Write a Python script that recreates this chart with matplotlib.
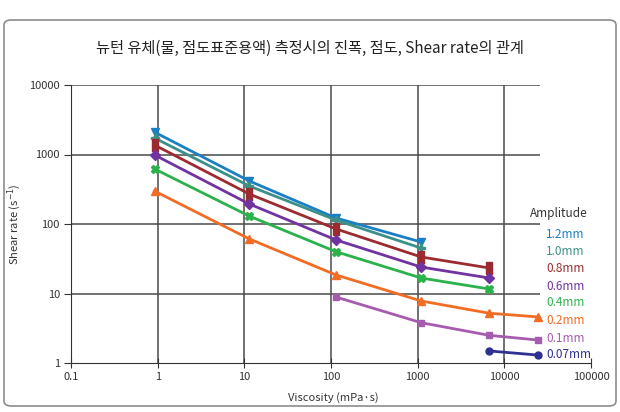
import matplotlib
matplotlib.use('Agg')
import matplotlib.pyplot as plt
from matplotlib.patches import FancyBboxPatch

plt.rcParams['font.family'] = ['Noto Sans CJK KR', 'DejaVu Sans']
plt.rcParams['mathtext.fontset'] = 'dejavusans'

# viscosity of the standard liquids (mPa.s)
visc = [0.92, 11.4, 114, 1100, 6700, 24500]

labels = ['1.2mm', '1.0mm', '0.8mm', '0.6mm', '0.4mm', '0.2mm', '0.1mm', '0.07mm']
colors = ['#1b7fc4', '#3b9188', '#9b2b30', '#7133a0', '#2bb24c', '#f26c24', '#a65cae', '#2e3192']

amp_12 = [2100, 416, 122, 55]
amp_10 = [1730, 352, 114, 45]
amp_08 = [1370, 270, 85, 33.5, 23.3]
amp_06 = [985, 194, 59, 24, 16.7]
amp_04 = [620, 130, 40, 16.7, 11.6]
amp_02 = [298, 61, 18.5, 7.8, 5.2, 4.6]
amp_01 = [8.9, 3.8, 2.5, 2.14]
amp_007 = [1.49, 1.30]

series = [
    (visc[:4], amp_12),
    (visc[:4], amp_10),
    (visc[:5], amp_08),
    (visc[:5], amp_06),
    (visc[:5], amp_04),
    (visc[:6], amp_02),
    (visc[2:], amp_01),
    (visc[4:], amp_007),
]

rect = [(-0.45, -1), (0.45, -1), (0.45, 1), (-0.45, 1), (-0.45, -1)]
markers = ['v', 'P', rect, 'D', 'X', '^', 's', 'o']
msizes = [6, 5.5, 8.5, 5, 5.5, 5.5, 5, 5]

W, H = 620, 412
fig = plt.figure(figsize=(W / 100, H / 100), dpi=100)

frame = FancyBboxPatch((4 / W, 6 / H), 612 / W, 386 / H,
                       boxstyle='round,pad=0,rounding_size=0.012',
                       transform=fig.transFigure, fill=False,
                       edgecolor='#8c8c8c', linewidth=1.2)
fig.patches.append(frame)

ax = fig.add_axes([71 / W, (H - 363) / H, 520 / W, 278 / H])
ax.set_xscale('log')
ax.set_yscale('log')
ax.set_xlim(0.1, 100000)
ax.set_ylim(1, 10000)

# grid
for xv in [1, 10, 100, 1000, 10000]:
    ax.axvline(xv, color='#4a4a4a', lw=1.1, zorder=1)
for yv in [10, 100, 1000, 10000]:
    ax.hlines(yv, 0.1, 26000, color='#4a4a4a', lw=1.1, zorder=1)

for (xs, ys), c, m, ms in zip(series, colors, markers, msizes):
    ax.plot(xs, ys, color=c, lw=2.0, marker=m, ms=ms, mec=c, mfc=c, zorder=3,
            clip_on=False)

for s in ['top', 'right']:
    ax.spines[s].set_visible(False)
ax.spines['left'].set_color('#333333')
ax.spines['bottom'].set_color('#333333')
ax.minorticks_off()
ax.set_xticks([0.1, 1, 10, 100, 1000, 10000, 100000])
ax.set_xticklabels(['0.1', '1', '10', '100', '1000', '10000', '100000'])
ax.set_yticks([1, 10, 100, 1000, 10000])
ax.set_yticklabels(['1', '10', '100', '1000', '10000'])
ax.tick_params(axis='x', direction='inout', length=7, labelsize=8, colors='#333333', pad=3)
ax.tick_params(axis='y', direction='out', length=5, labelsize=8, colors='#333333', pad=3)
ax.set_xlabel('Viscosity (mPa·s)', fontsize=8, color='#333333')
ax.xaxis.set_label_coords((333 - 71) / 520, -(392 - 363) / 278)
ax.set_ylabel('Shear rate (s$^{-1}$)', fontsize=8, color='#333333')
ax.yaxis.set_label_coords((23 - 71) / 520, 0.5)

fig.text(310 / W, 1 - 48 / H, '뉴턴 유체(물, 점도표준용액) 측정시의 진폭, 점도, Shear rate의 관계',
         ha='center', va='center', fontsize=11, color='#222222')

# amplitude labels
fig.text(530 / W, 1 - 213 / H, 'Amplitude', ha='left', va='center', fontsize=8.5, color='#333333')
label_y = [234, 252, 269, 286, 303, 321, 338, 355]
for lab, c, yy in zip(labels, colors, label_y):
    fig.text(546 / W, 1 - yy / H, lab, ha='left', va='center', fontsize=8.5, color=c)

fig.savefig('out.png', dpi=100)
